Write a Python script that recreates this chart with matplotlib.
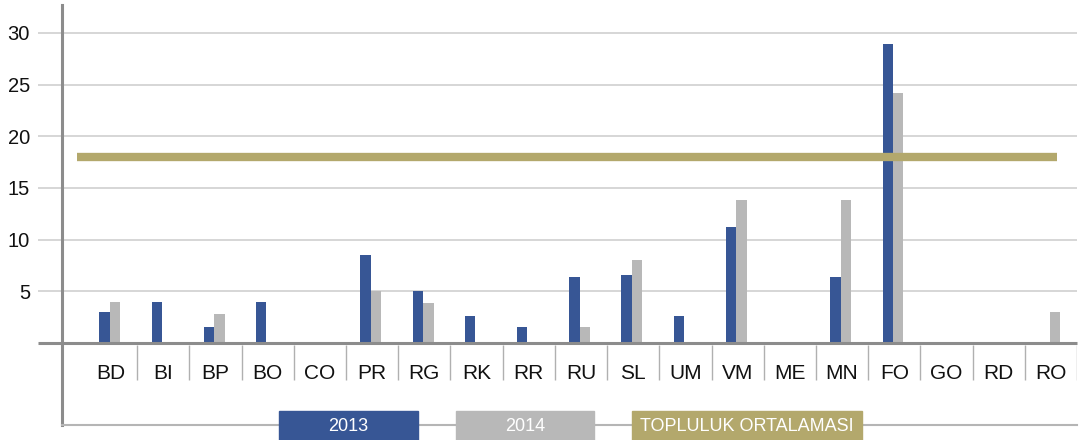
import numpy as np
import matplotlib
matplotlib.use("Agg")
import matplotlib.pyplot as plt
from matplotlib.patches import Rectangle

plt.rcParams['font.family'] = ['Liberation Sans', 'DejaVu Sans']

# Data
categories = ['BD', 'BI', 'BP', 'BO', 'CO', 'PR', 'RG', 'RK', 'RR', 'RU',
              'SL', 'UM', 'VM', 'ME', 'MN', 'FO', 'GO', 'RD', 'RO']
values_2013 = [3.0, 4.0, 1.5, 4.0, 0, 8.5, 5.0, 2.6, 1.5, 6.4,
               6.6, 2.6, 11.2, 0, 6.4, 28.9, 0, 0, 0]
values_2014 = [4.0, 0, 2.8, 0, 0, 5.0, 3.9, 0, 0, 1.5,
               8.0, 0, 13.8, 0, 13.8, 24.2, 0, 0, 3.0]
community_avg = 18.0
yticks = [5, 10, 15, 20, 25, 30]
legend_labels = ['2013', '2014', 'TOPLULUK ORTALAMASI']

blue = '#375695'
grey = '#b8b8b8'
khaki = '#b3a86c'

W, H = 1091, 440
fig = plt.figure(figsize=(W / 100, H / 100), dpi=100)
ax = fig.add_axes([62 / W, 1 - 425 / H, (1077 - 62) / W, (425 - 5) / H])

x = np.arange(len(categories))
bw = 0.2
shift = -0.025
ax.bar(x - bw / 2 + shift, values_2013, bw, color=blue, zorder=3)
ax.bar(x + bw / 2 + shift, values_2014, bw, color=grey, zorder=3)

x_left = -0.5 - (85 - 62) / 52.2
ax.set_xlim(x_left, len(categories) - 0.5)
ax.set_ylim(-7.94, 32.7)

# gridlines reaching out to the tick labels
gx0 = -0.5 - (85 - 38) / 52.2
ax.hlines(yticks, gx0, len(categories) - 0.5, colors='#cfcfcf', linewidth=1.2,
          clip_on=False, zorder=1)
ax.hlines(0, gx0, len(categories) - 0.5, colors='#8c8c8c', linewidth=2.2,
          clip_on=False, zorder=4)

# category separators
ax.vlines(x + 0.5, -3.6, -0.2, colors='#b0b0b0', linewidth=1.0, zorder=2)
for xi, lab in zip(x, categories):
    ax.text(xi, -3.0, lab, ha='center', va='center', fontsize=15, color='#111111')

# community average line
ax.hlines(community_avg, -0.65, 18.12, colors=khaki, linewidth=6, zorder=5)

ax.set_xticks([])
ax.set_yticks(yticks)
ax.tick_params(axis='y', length=0, pad=23, labelsize=14.5, labelcolor='#111111')

for side in ['top', 'right']:
    ax.spines[side].set_visible(False)
ax.spines['left'].set_color('#8c8c8c')
ax.spines['left'].set_linewidth(2.2)
ax.spines['bottom'].set_color('#b5b5b5')
ax.spines['bottom'].set_linewidth(1.5)

# legend boxes along the bottom line
boxes = [(279, 418, blue), (456, 594, grey), (632, 862, khaki)]
for (x0, x1, c), lab in zip(boxes, legend_labels):
    fig.patches.append(Rectangle((x0 / W, 0), (x1 - x0) / W, (H - 411) / H,
                                 transform=fig.transFigure, color=c, zorder=10))
    fig.text((x0 + x1) / 2 / W, 1 - 426 / H, lab, ha='center', va='center',
             color='white', fontsize=13, zorder=11)

fig.savefig('out.png', dpi=100)
